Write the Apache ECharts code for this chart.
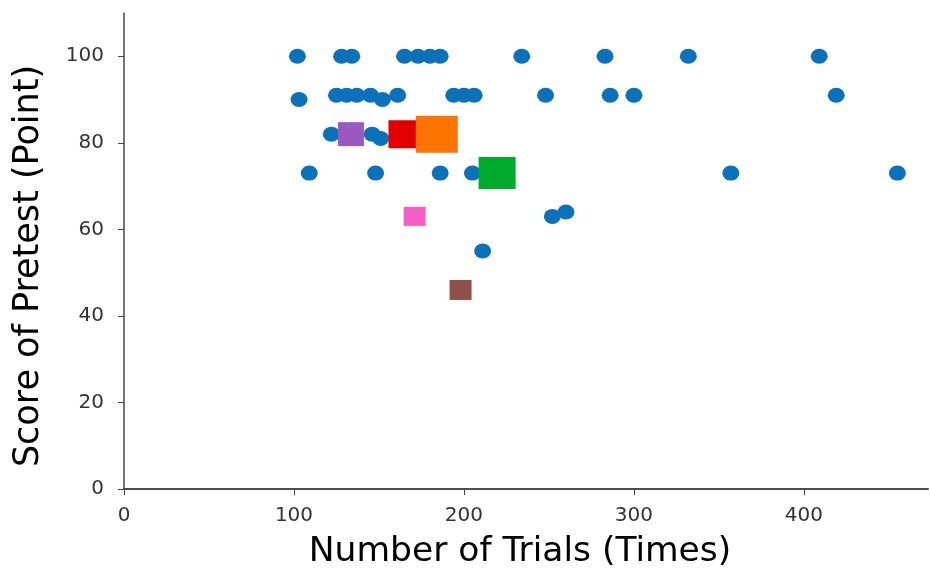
<!DOCTYPE html>
<html>
<head>
<meta charset="utf-8">
<script src="https://cdn.jsdelivr.net/npm/echarts@6/dist/echarts.min.js"></script>
<style>html,body{margin:0;padding:0;background:#fff}#c{width:930px;height:570px}</style>
</head>
<body>
<div id="c"></div>
<script>
// Blue dots: [trials, score]
var dotsX = [102,128,134,165,173,180,186,234,283,332,409,
             103,125,131,137,145,152,161,194,200,206,248,286,300,419,
             122,146,151,
             109,148,186,205,357,455,
             211,252,260];
var dotsY = [100,100,100,100,100,100,100,100,100,100,100,
             90,91,91,91,91,90,91,91,91,91,91,91,91,91,
             82,82,81,
             73,73,73,73,73,73,
             55,63,64];
// Highlighted squares
var purpleXY = [133.5, 82];
var redXY = [165, 82];
var orangeXY = [184, 82];
var greenXY = [219.5, 73];
var pinkXY = [171, 63];
var brownXY = [198, 46];

var xTicks = [0,100,200,300,400];
var yTicks = [0,20,40,60,80,100];

var dots = dotsX.map(function(x,i){return [x, dotsY[i]];});

function sq(name, xy, color, size){
  return {name:name, type:'scatter', symbol:'rect', symbolSize:size,
    itemStyle:{color:color, opacity:1}, data:[xy], z:3};
}

var chart = echarts.init(document.getElementById('c'), null, {renderer:'canvas'});
var font = 'DejaVu Sans';
chart.setOption({
  animation:false,
  grid:{left:124, top:13, right:2, bottom:81, containLabel:false, outerBoundsMode:'none'},
  xAxis:[{
    type:'value', min:0, max:473, interval:100, position:'bottom',
    name:'Number of Trials (Times)', nameLocation:'middle', nameGap:46,
    nameTextStyle:{fontFamily:font, fontSize:34.5, color:'#000', padding:[0,12,0,0]},
    splitLine:{show:false},
    axisLine:{show:true, onZero:false, lineStyle:{color:'#444', width:1.5}},
    axisTick:{show:true, length:6, customValues:xTicks, lineStyle:{color:'#444'}},
    axisLabel:{fontFamily:font, fontSize:20, color:'#333', margin:17, customValues:xTicks}
  },{
    type:'value', min:0, max:473, position:'top', gridIndex:0,
    splitLine:{show:false}, axisTick:{show:false}, axisLabel:{show:false},
    axisLine:{show:true, lineStyle:{color:'#444', width:1.5}}
  }],
  yAxis:{
    type:'value', min:0, max:110, interval:20,
    name:'Score of Pretest (Point)', nameLocation:'middle', nameGap:78,
    nameTextStyle:{fontFamily:font, fontSize:35, color:'#000', padding:[0,30,0,0]},
    splitLine:{show:false},
    axisLine:{show:true, onZero:false, lineStyle:{color:'#444', width:1.5}},
    axisTick:{show:true, length:6, customValues:yTicks, lineStyle:{color:'#444'}},
    axisLabel:{fontFamily:font, fontSize:20, color:'#333', margin:20, customValues:yTicks}
  },
  series:[
    {name:'students', type:'scatter', symbol:'circle', symbolSize:[17,15],
     itemStyle:{color:'#0a71ba', opacity:1}, data:dots, z:2},
    sq('purple', purpleXY, '#9b59bf', [26,24]),
    sq('red', redXY, '#e20000', [32,28]),
    sq('orange', orangeXY, '#ff7300', [42,37]),
    sq('green', greenXY, '#00aa2d', [37,32]),
    sq('pink', pinkXY, '#f55fc4', [22,19]),
    sq('brown', brownXY, '#8e514a', [22,20])
  ]
});
</script>
</body>
</html>
